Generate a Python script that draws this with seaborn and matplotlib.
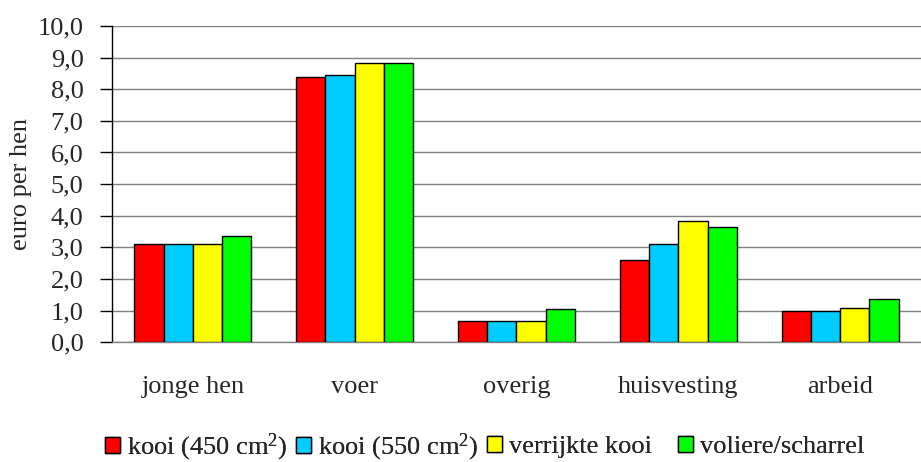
import matplotlib
matplotlib.use("Agg")
import matplotlib.pyplot as plt
import seaborn as sns
import pandas as pd
from matplotlib.patches import Patch
from matplotlib.font_manager import FontProperties

categories = ["jonge hen", "voer", "overig", "huisvesting", "arbeid"]
series = ["kooi (450 cm$^2$)", "kooi (550 cm$^2$)", "verrijkte kooi", "voliere/scharrel"]
kooi450 = [3.10, 8.39, 0.67, 2.59, 0.98]
kooi550 = [3.10, 8.45, 0.67, 3.10, 0.98]
verrijkt = [3.10, 8.84, 0.69, 3.82, 1.08]
voliere = [3.35, 8.84, 1.05, 3.65, 1.36]
colors = ["#FF0000", "#00CCFF", "#FFFF00", "#00FF00"]
yticks = [0, 1, 2, 3, 4, 5, 6, 7, 8, 9, 10]

rows = []
for s, vals in zip(series, [kooi450, kooi550, verrijkt, voliere]):
    for c, v in zip(categories, vals):
        rows.append({"cat": c, "serie": s, "val": v})
df = pd.DataFrame(rows)

sns.set_theme(style="white")
plt.rcParams["font.family"] = ["Liberation Serif", "DejaVu Serif"]
plt.rcParams["mathtext.fontset"] = "custom"
plt.rcParams["mathtext.rm"] = "Liberation Serif"
plt.rcParams["mathtext.it"] = "Liberation Serif:italic"
plt.rcParams["mathtext.bf"] = "Liberation Serif:bold"

FS = 19
W, H = 921, 462

fig = plt.figure(figsize=(9.21, 4.62), dpi=100)
ax = fig.add_axes([0.1216, 0.259, 1 - 0.1216, 0.944 - 0.259])

sns.barplot(data=df, x="cat", y="val", hue="serie", palette=colors,
            width=0.724, edgecolor="black", linewidth=1, saturation=1,
            ax=ax, legend=False, zorder=3)

ax.set_ylim(0, 10)
ax.set_xlim(-0.5, 4.42)
ax.set_yticks(yticks)
ax.set_yticklabels([f"{t:.1f}".replace(".", ",") for t in yticks],
                   fontsize=FS, family="Liberation Serif")
ax.yaxis.grid(True, color="#808080", linewidth=1, zorder=0)
ax.set_axisbelow(True)

ax.set_xticks([i + 0.5 for i in range(-1, 5)], minor=True)
ax.set_xticks(range(5))
ax.set_xticklabels(categories, fontsize=FS, family="Liberation Serif")
ax.tick_params(axis="x", which="major", length=0, pad=24)
ax.tick_params(axis="x", which="minor", length=9, width=1, color="#808080", direction="out")
ax.tick_params(axis="y", length=8.5, width=1, color="black", direction="out", left=True, pad=12)

for side in ["top", "right"]:
    ax.spines[side].set_visible(False)
ax.spines["left"].set_color("black")
ax.spines["left"].set_linewidth(1)
ax.spines["bottom"].set_color("#808080")
ax.spines["bottom"].set_linewidth(1)

ax.set_xlabel("")
ax.set_ylabel("euro per hen", fontsize=FS, family="Liberation Serif", labelpad=4)

# Legend: four equally spaced entries (Excel style)
leg_left = 105
leg_step = 191
for i, (c, s) in enumerate(zip(colors, series)):
    h = Patch(facecolor=c, edgecolor="black", linewidth=1)
    lg = fig.legend([h], [s], loc="center left",
                    bbox_to_anchor=((leg_left + i * leg_step) / W, 0.032),
                    frameon=False, prop=FontProperties(family="Liberation Serif", size=FS),
                    handlelength=0.55, handleheight=0.55, handletextpad=0.27,
                    borderpad=0, borderaxespad=0)
    fig.add_artist(lg)

fig.savefig("out.png", dpi=100)
